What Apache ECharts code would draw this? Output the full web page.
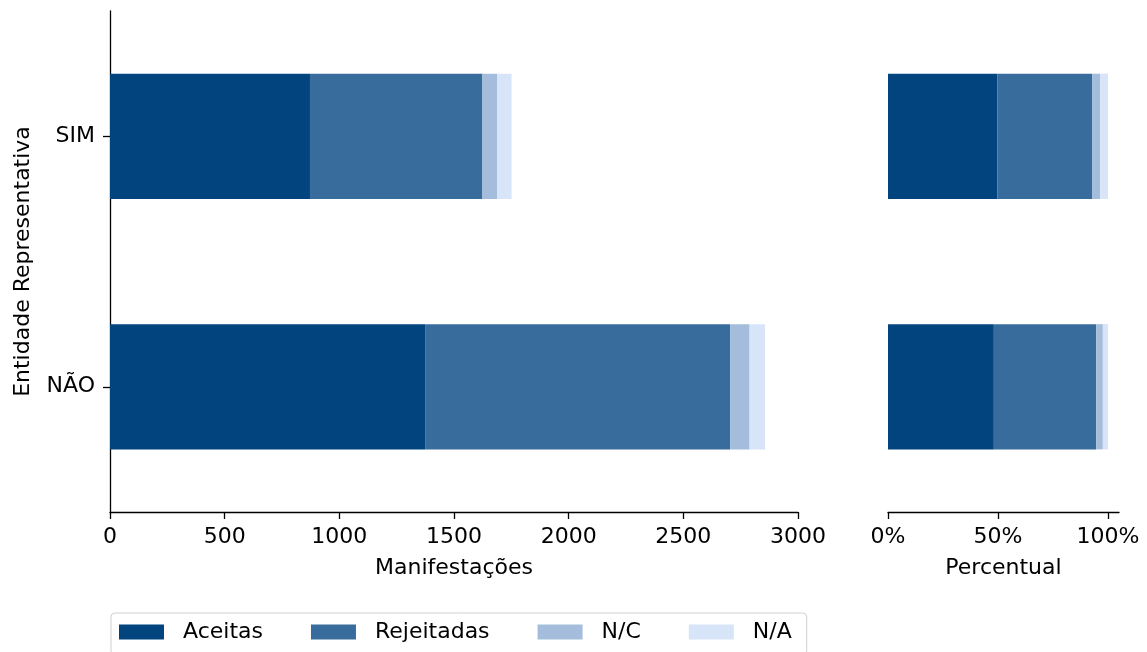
<!DOCTYPE html>
<html>
<head>
<meta charset="utf-8">
<script src="https://cdn.jsdelivr.net/npm/echarts@6/dist/echarts.min.js"></script>
<style>
  html, body { margin: 0; padding: 0; background: #fff; }
  #chart { width: 1147px; height: 652px; }
</style>
</head>
<body>
<div id="chart"></div>
<script>
// Manifestações by representative entity, split by outcome
const categories = ['NÃO', 'SIM'];
const seriesNames = ['Aceitas', 'Rejeitadas', 'N/C', 'N/A'];
const aceitas = [1374, 872];
const rejeitadas = [1330, 752];
const naoConsta = [85, 65];
const naoAplica = [67, 62];
const countTicks = [0, 500, 1000, 1500, 2000, 2500, 3000];
const shareTicks = [0, 0.5, 1];

const colors = ['#02457e', '#386c9c', '#a4bddc', '#d8e4f8'];
const FONT = 'DejaVu Sans';
const FS = 22;

const counts = [aceitas, rejeitadas, naoConsta, naoAplica];
const totals = categories.map((_, i) => counts.reduce((s, arr) => s + arr[i], 0));
const shares = counts.map(arr => arr.map((v, i) => v / totals[i]));

const axisLineStyle = { color: '#000', width: 1.3 };
const labelStyle = { color: '#000', fontFamily: FONT, fontSize: FS };

const series = [];
counts.forEach((arr, k) => {
  series.push({
    name: seriesNames[k], type: 'bar', stack: 'abs', xAxisIndex: 0, yAxisIndex: 0,
    data: arr, barWidth: '50%', itemStyle: { color: colors[k] }, emphasis: { disabled: true }
  });
});
shares.forEach((arr, k) => {
  series.push({
    name: seriesNames[k], type: 'bar', stack: 'pct', xAxisIndex: 1, yAxisIndex: 1,
    data: arr, barWidth: '50%', itemStyle: { color: colors[k] }, emphasis: { disabled: true }
  });
});

const chart = echarts.init(document.getElementById('chart'), null, { renderer: 'canvas' });
chart.setOption({
  animation: false,
  backgroundColor: '#fff',
  textStyle: { fontFamily: FONT },
  grid: [
    { left: 110, width: 688, top: 11, height: 501 },
    { left: 888, width: 231, top: 11, height: 501 }
  ],
  xAxis: [
    {
      type: 'value', gridIndex: 0, min: 0, max: 3000, interval: 500,
      name: 'Manifestações', nameLocation: 'middle', nameGap: 45,
      nameTextStyle: labelStyle,
      axisLine: { show: true, lineStyle: axisLineStyle },
      axisTick: { show: true, length: 7, lineStyle: axisLineStyle, customValues: countTicks },
      axisLabel: Object.assign({
        margin: 14, customValues: countTicks, formatter: v => String(v)
      }, labelStyle),
      splitLine: { show: false }
    },
    {
      type: 'value', gridIndex: 1, min: 0, max: 1.05, interval: 0.5,
      name: 'Percentual', nameLocation: 'middle', nameGap: 45,
      nameTextStyle: labelStyle,
      axisLine: { show: true, lineStyle: axisLineStyle },
      axisTick: { show: true, length: 7, lineStyle: axisLineStyle, customValues: shareTicks },
      axisLabel: Object.assign({
        margin: 14, customValues: shareTicks,
        formatter: v => Math.round(v * 100) + '%'
      }, labelStyle),
      splitLine: { show: false }
    }
  ],
  yAxis: [
    {
      type: 'category', gridIndex: 0, data: categories,
      name: 'Entidade Representativa', nameLocation: 'middle', nameRotate: 90, nameGap: 76,
      nameTextStyle: labelStyle,
      axisLine: { show: true, lineStyle: axisLineStyle },
      axisTick: { show: true, length: 7, alignWithLabel: true, lineStyle: axisLineStyle },
      axisLabel: Object.assign({ margin: 15 }, labelStyle),
      splitLine: { show: false }
    },
    {
      type: 'category', gridIndex: 1, data: categories,
      axisLine: { show: false }, axisTick: { show: false }, axisLabel: { show: false },
      splitLine: { show: false }
    }
  ],
  legend: {
    data: seriesNames,
    left: 111, top: 613,
    orient: 'horizontal',
    itemWidth: 45, itemHeight: 15, itemGap: 48,
    icon: 'rect',
    padding: [8, 15, 12, 8],
    borderColor: '#d0d0d0', borderWidth: 1, borderRadius: 4,
    textStyle: Object.assign({ padding: [0, 0, 0, 14] }, labelStyle),
    selectedMode: false
  },
  series: series
});
</script>
</body>
</html>
